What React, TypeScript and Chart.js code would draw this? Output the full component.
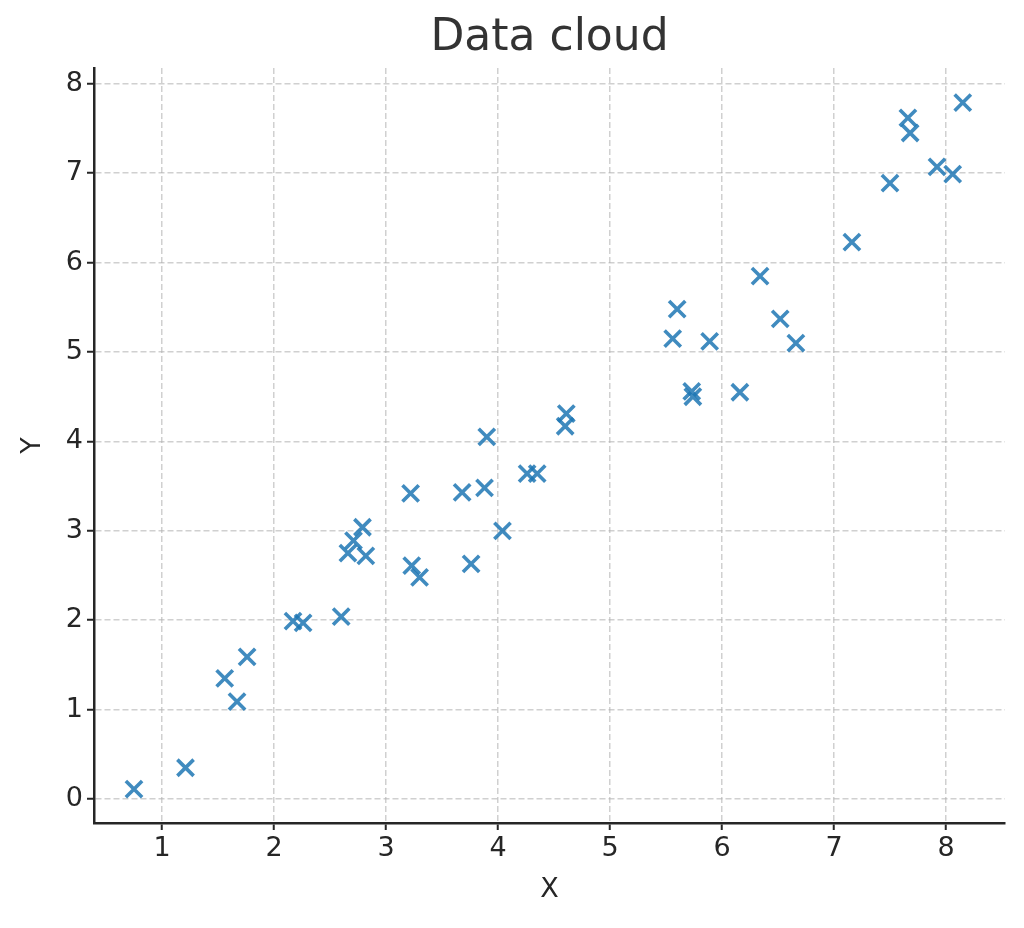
import React, { useEffect, useRef } from "react";
import { Chart, registerables } from "chart.js";

Chart.register(...registerables);

const xValues = [0.75, 1.21, 1.56, 1.67, 1.76, 2.17, 2.26, 2.6, 2.66, 2.71, 2.79, 2.82, 3.22, 3.23, 3.3, 3.68, 3.76, 3.88, 3.9, 4.04, 4.26, 4.35, 4.6, 4.61, 5.56, 5.6, 5.73, 5.74, 5.89, 6.16, 6.34, 6.52, 6.66, 7.16, 7.5, 7.66, 7.68, 7.92, 8.06, 8.15];
const yValues = [0.11, 0.35, 1.35, 1.09, 1.59, 1.99, 1.97, 2.04, 2.75, 2.89, 3.04, 2.72, 3.42, 2.61, 2.48, 3.43, 2.63, 3.48, 4.05, 3.0, 3.64, 3.64, 4.17, 4.31, 5.15, 5.48, 4.56, 4.5, 5.12, 4.55, 5.85, 5.37, 5.1, 6.23, 6.89, 7.62, 7.45, 7.07, 6.99, 7.79];
const xTicks = [1, 2, 3, 4, 5, 6, 7, 8];
const yTicks = [0, 1, 2, 3, 4, 5, 6, 7, 8];
const titleText = "Data cloud";

const FONT = "'DejaVu Sans', sans-serif";
const DARK = "#262626";

const titlePlugin = {
  id: "centeredTitle",
  afterDraw(chart: any) {
    const { ctx, chartArea } = chart;
    ctx.save();
    ctx.font = `44px ${FONT}`;
    ctx.fillStyle = "#333333";
    ctx.textAlign = "center";
    ctx.textBaseline = "middle";
    ctx.fillText(titleText, (chartArea.left + chartArea.right) / 2, 39);
    ctx.restore();
  },
};

export default function App() {
  const ref = useRef<HTMLCanvasElement | null>(null);
  useEffect(() => {
    if (!ref.current) return;
    const points = xValues.map((x, i) => ({ x, y: yValues[i] }));
    const gridCommon = {
      color: "rgba(176,176,176,0.6)",
      lineWidth: 1.5,
      tickColor: DARK,
      tickWidth: 2,
      tickLength: 7,
      tickBorderDash: [],
    };
    const chart = new Chart(ref.current, {
      type: "scatter",
      data: {
        datasets: [
          {
            data: points,
            pointStyle: "crossRot",
            pointRadius: 11.5,
            pointHoverRadius: 11.5,
            pointBorderWidth: 3.6,
            borderColor: "rgba(31,119,180,0.85)",
            backgroundColor: "rgba(31,119,180,0.85)",
          },
        ],
      },
      options: {
        responsive: false,
        animation: false,
        layout: { padding: { left: 0, right: 19, top: 68, bottom: 0 } },
        plugins: {
          legend: { display: false },
          tooltip: { enabled: false },
          title: { display: false },
        },
        scales: {
          x: {
            type: "linear",
            min: 0.393,
            max: 8.527,
            afterBuildTicks: (axis: any) => {
              axis.ticks = xTicks.map((v) => ({ value: v }));
            },
            afterFit: (scale: any) => {
              scale.height = 105;
            },
            grid: gridCommon,
            border: { display: true, color: DARK, width: 2.5, dash: [6, 3] },
            ticks: {
              color: DARK,
              padding: 3,
              maxRotation: 0,
              font: { family: FONT, size: 27 },
              callback: (v: any) => String(v),
            },
            title: {
              display: true,
              text: "X",
              color: DARK,
              font: { family: FONT, size: 27, lineHeight: 1.2 },
              padding: { top: 0, bottom: 22 },
            },
          },
          y: {
            type: "linear",
            min: -0.268,
            max: 8.177,
            afterBuildTicks: (axis: any) => {
              axis.ticks = yTicks.map((v) => ({ value: v }));
            },
            afterFit: (scale: any) => {
              scale.width = 94;
            },
            grid: gridCommon,
            border: { display: true, color: DARK, width: 2.5, dash: [6, 3] },
            ticks: {
              color: DARK,
              padding: 4,
              font: { family: FONT, size: 27 },
              callback: (v: any) => String(v),
            },
            title: {
              display: true,
              text: "Y",
              color: DARK,
              font: { family: FONT, size: 27, lineHeight: 1.2 },
              padding: { top: 17, bottom: 0 },
            },
          },
        },
      },
      plugins: [titlePlugin],
    });
    return () => chart.destroy();
  }, []);
  return (
    <div style={{ position: "absolute", left: 0, top: 0, width: 1024, height: 928, background: "#fff" }}>
      <canvas ref={ref} width={1024} height={928} style={{ width: 1024, height: 928, display: "block" }} />
    </div>
  );
}
